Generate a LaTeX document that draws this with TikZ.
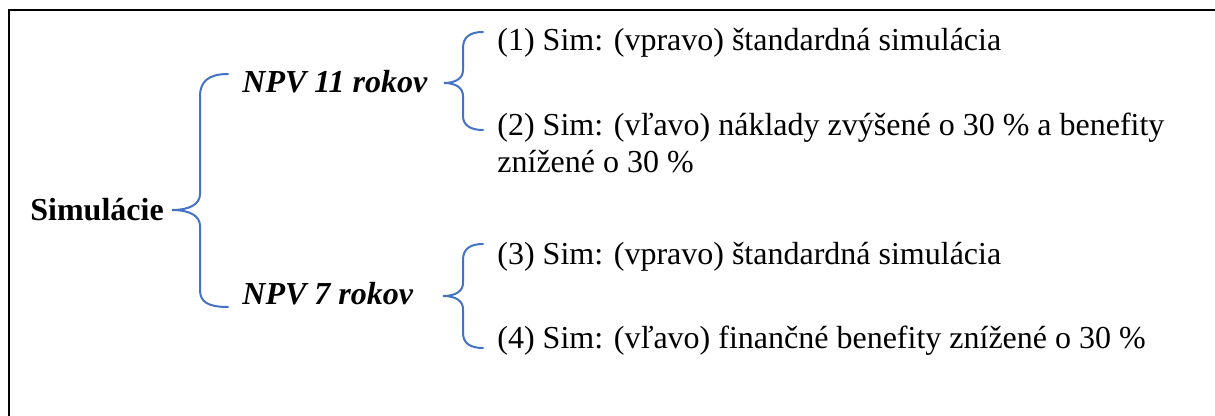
\documentclass[tikz,border=0pt]{standalone}
\usepackage{fontspec}
\setmainfont{Liberation Serif}
\definecolor{braceblue}{HTML}{4472C4}

\begin{document}
\begin{tikzpicture}[x=0.5pt,y=-0.5pt,
    txt/.style={anchor=base west,inner sep=0pt,align=left,font=\fontsize{16}{18.5}\selectfont},
    brace/.style={draw=braceblue,line width=1pt,line cap=round}]
    \useasboundingbox (0,0) rectangle (1215,416);
    % frame, cut off on the right and at the bottom
    \draw[line width=1pt] (9,416) -- (9,10) -- (1215,10);

    % labels
    \node[txt,font=\fontsize{16}{18.5}\selectfont\bfseries] (sim) at (30,221) {Simulácie};
    \node[txt,font=\fontsize{16}{18.5}\selectfont\bfseries\itshape] (npv11) at (242,93) {NPV 11 rokov};
    \node[txt,font=\fontsize{16}{18.5}\selectfont\bfseries\itshape] (npv7) at (242,305) {NPV 7 rokov};
    \node[txt] (s1) at (497,51) {(1) Sim: (vpravo) štandardná simulácia};
    % base of a two-line node is its last line
    \node[txt] (s2) at (497,173) {(2) Sim: (vľavo) náklady zvýšené o 30 \% a benefity\\znížené o 30 \%};
    \node[txt] (s3) at (497,265) {(3) Sim: (vpravo) štandardná simulácia};
    \node[txt] (s4) at (497,349) {(4) Sim: (vľavo) finančné benefity znížené o 30 \%};

    % brace points
    \coordinate (t0) at (172,210);
    \coordinate (a0) at (228,74);
    \coordinate (b0) at (228,307);
    \coordinate (t1) at (444,83);
    \coordinate (a1) at (483,32);
    \coordinate (b1) at (483,130);
    \coordinate (t2) at (443,296);
    \coordinate (a2) at (483,244);
    \coordinate (b2) at (483,348);

    % braces
    \draw[brace] (a0) .. controls (208,74) and (200,82) .. (200,96) -- (200,194)
        .. controls (200,204) and (190,210) .. (t0)
        .. controls (190,210) and (200,216) .. (200,226) -- (200,290)
        .. controls (200,302) and (208,307) .. (b0);
    \draw[brace] (a1) .. controls (470,32) and (463,37) .. (463,48) -- (463,70)
        .. controls (463,78) and (456,83) .. (t1)
        .. controls (456,83) and (463,88) .. (463,96) -- (463,116)
        .. controls (463,125) and (470,130) .. (b1);
    \draw[brace] (a2) .. controls (470,244) and (463,249) .. (463,260) -- (463,283)
        .. controls (463,291) and (456,296) .. (t2)
        .. controls (456,296) and (463,301) .. (463,309) -- (463,333)
        .. controls (463,343) and (470,348) .. (b2);
\end{tikzpicture}
\end{document}
